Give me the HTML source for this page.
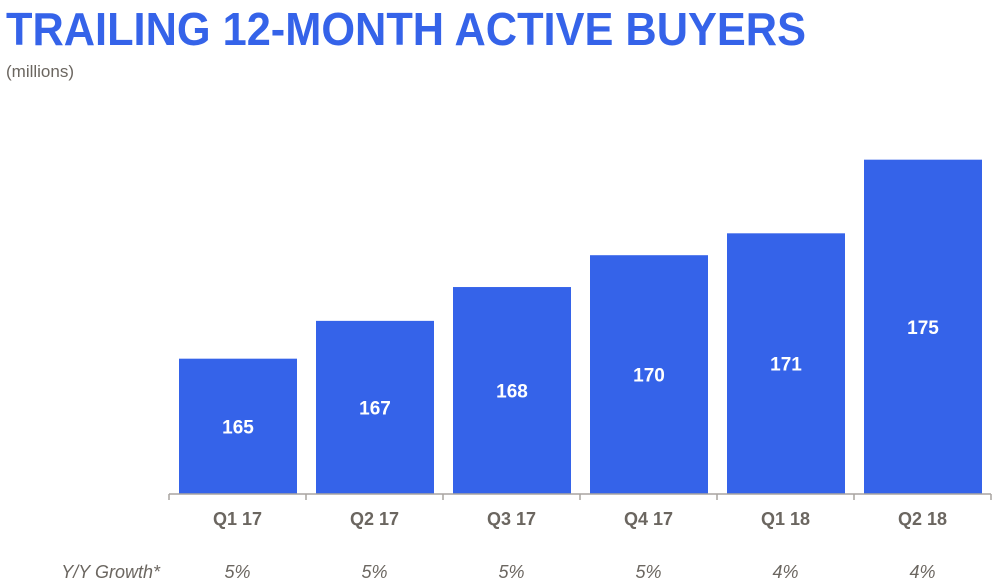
<!DOCTYPE html>
<html><head><meta charset="utf-8"><style>
html,body{margin:0;padding:0;background:#fff;}
svg{display:block;font-family:"Liberation Sans",sans-serif;}
</style></head><body>
<svg id="chart" width="1000" height="587" viewBox="0 0 1000 587">
<text x="6" y="45" font-size="46" font-weight="bold" fill="#3563e9" textLength="800" lengthAdjust="spacingAndGlyphs">TRAILING 12-MONTH ACTIVE BUYERS</text>
<text x="6" y="77" font-size="17" fill="#6b6660">(millions)</text>
<g id="bars"></g>
<line x1="169" y1="494" x2="991" y2="494" stroke="#a8a4a0" stroke-width="1.5"/>
<g id="ticks"></g>
<text x="160" y="578" font-size="18" font-style="italic" fill="#6b6660" text-anchor="end">Y/Y Growth*</text>
</svg>
<script>
const categories = ["Q1 17","Q2 17","Q3 17","Q4 17","Q1 18","Q2 18"];
const buyers = [165.0,166.9,168.6,170.2,171.3,175.0];
const labels = ["165","167","168","170","171","175"];
const growth = ["5%","5%","5%","5%","4%","4%"];
const ns="http://www.w3.org/2000/svg";
const x0=169, band=137, base=494;
function xScale(i){return x0+i*band;}
function yScale(v){return base-(v-158.2)*19.9;}
const bars=document.getElementById('bars'), ticks=document.getElementById('ticks');
function mk(tag,attrs,parent){const e=document.createElementNS(ns,tag);for(const k in attrs)e.setAttribute(k,attrs[k]);parent.appendChild(e);return e;}
categories.forEach((c,i)=>{
  const x=xScale(i)+10, w=118, y=yScale(buyers[i]);
  const r=mk('rect',{x:x,y:y,width:w,height:base-y,fill:'#3563e9'},bars);
  
  
  const t=mk('text',{x:x+w/2,y:(y+base)/2+7,'font-size':19,'font-weight':'bold',fill:'#fff','text-anchor':'middle'},bars);
  t.textContent=labels[i];
  
  
  const tk=mk('line',{x1:xScale(i),y1:base,x2:xScale(i),y2:base+6,stroke:'#a8a4a0','stroke-width':1.5},ticks);
  
  
  const lb=mk('text',{x:xScale(i)+band/2,y:525,'font-size':18,'font-weight':'bold',fill:'#6b6660','text-anchor':'middle'},ticks);
  lb.textContent=c;
  
  
  const g=mk('text',{x:xScale(i)+band/2,y:578,'font-size':18,'font-style':'italic',fill:'#6b6660','text-anchor':'middle'},ticks);
  g.textContent=growth[i];
  
  
});
const lastTick=mk('line',{x1:xScale(6),y1:base,x2:xScale(6),y2:base+6,stroke:'#a8a4a0','stroke-width':1.5},ticks);


</script>
</body></html>
